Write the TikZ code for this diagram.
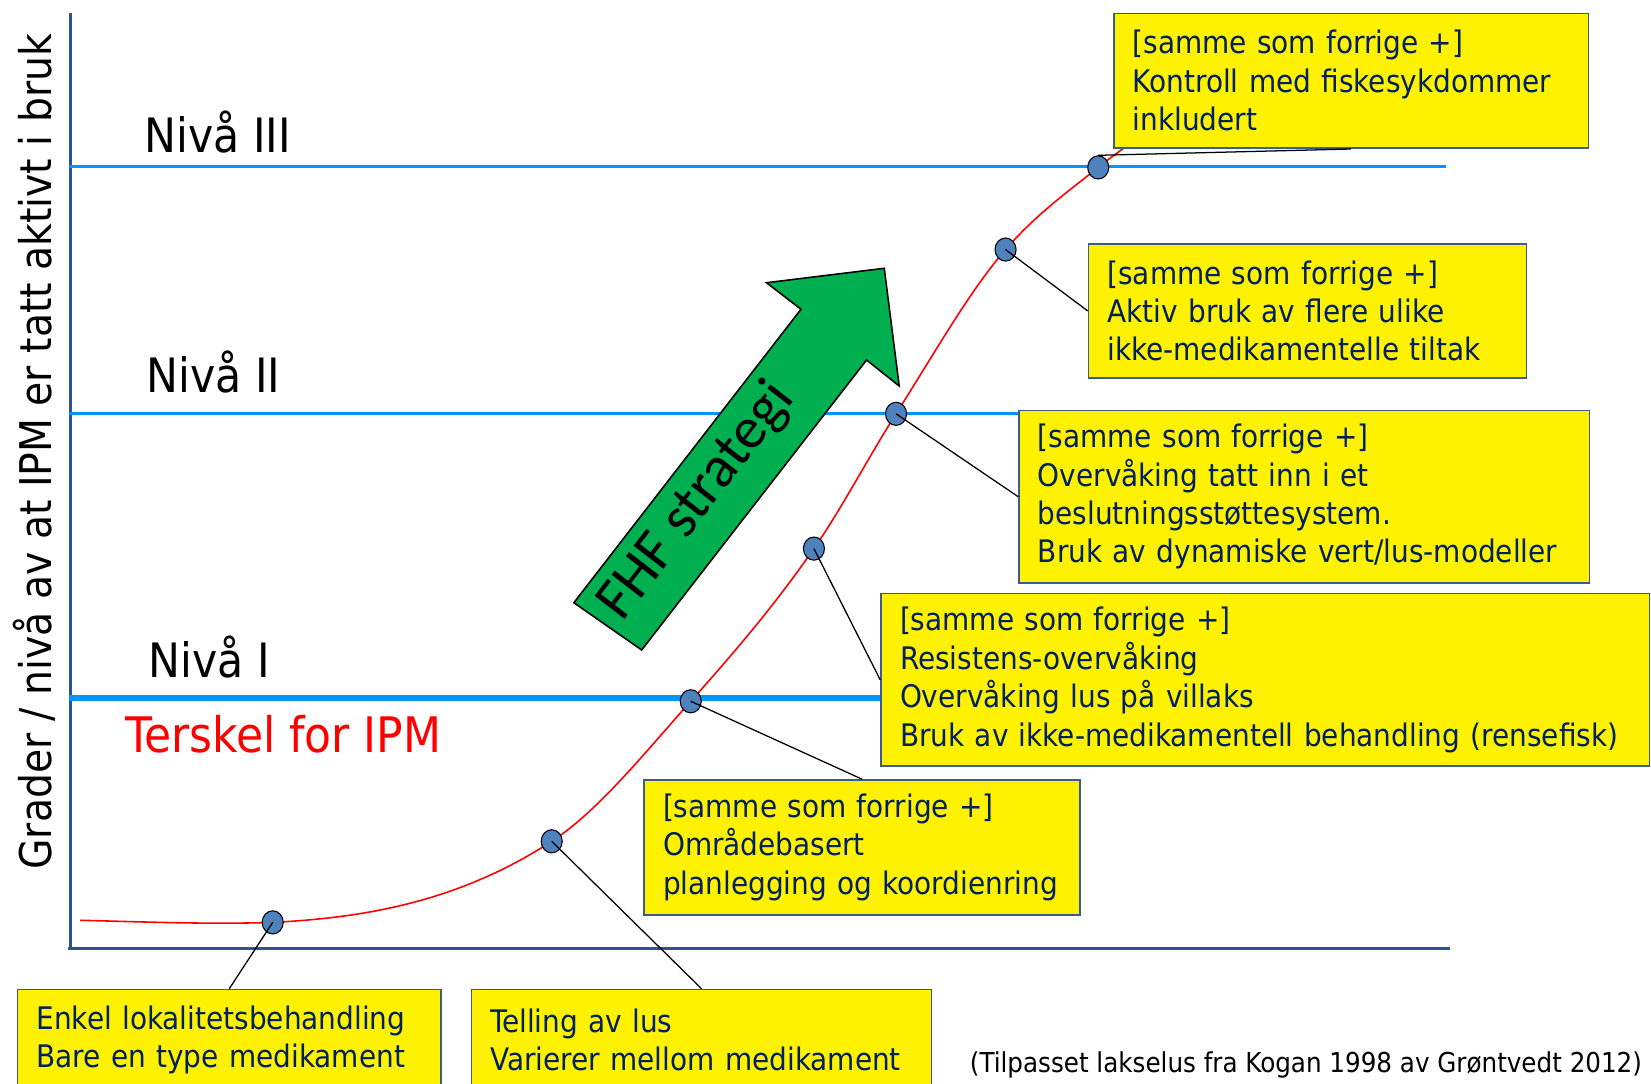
\documentclass[tikz,border=0pt]{standalone}
\usepackage{fontspec}
\setmainfont{DejaVu Sans Condensed}
\newfontfamily\calib{Carlito}
\usetikzlibrary{shapes.geometric}
\definecolor{axisblue}{RGB}{47,82,143}
\definecolor{levelblue}{RGB}{0,150,255}
\definecolor{dotblue}{RGB}{79,129,189}
\definecolor{boxline}{RGB}{60,90,140}
\definecolor{navy}{RGB}{0,32,96}
\definecolor{arrowgreen}{RGB}{0,176,80}
\begin{document}
\begin{tikzpicture}[x=1pt,y=-1pt,
  callout/.style={draw=boxline, line width=1.5pt, fill=yellow, text=navy,
    font=\fontsize{29.5}{36.5}\selectfont, align=left, anchor=north west,
    inner xsep=18pt, inner ysep=0pt},
  levelline/.style={draw=levelblue, line width=2.5pt},
  dot/.style={ellipse, draw=black, line width=1pt, fill=dotblue,
    minimum width=20pt, minimum height=22pt, inner sep=0pt},
  leader/.style={draw=black, line width=1.2pt},
  level/.style={font=\fontsize{45}{52}\selectfont, anchor=west, inner sep=0pt}]
\useasboundingbox (0,0) rectangle (1568,1029);
\clip (0,0) rectangle (1568,1029);
\fill[white] (0,0) rectangle (1568,1029);

% axes
\draw[axisblue, line width=3pt] (67,12) -- (67,902);
\draw[axisblue, line width=3pt] (65,901) -- (1377,901);

% level lines
\draw[levelline] (66,158) -- (1373,158);
\draw[levelline] (66,393) -- (1373,393);
\draw[levelblue, line width=6pt] (66,663) -- (836,663);

% labels
\node[level] (n3) at (137,125) {Nivå III};
\node[level] (n2) at (139,353) {Nivå II};
\node[level] (n1) at (141,624) {Nivå I};
\node[level, text=red, font=\fontsize{46.5}{54}\selectfont] (tk) at (119,697) {Terskel for IPM};
\node[rotate=90, font=\fontsize{41.5}{48}\selectfont, inner sep=0pt] (ylab) at (33,429)
  {Grader / nivå av at IPM er tatt aktivt i bruk};

% strategy arrow
\draw[fill=arrowgreen, draw=black, line width=1.5pt, line join=miter]
  (545,572.4) -- (609.4,617.3) -- (823,341.9) -- (854,366.6) -- (839.8,254.8)
  -- (728,268.5) -- (760.7,293.7) -- cycle;
\node[rotate=52.3, font=\calib\fontsize{56}{64}\selectfont, inner sep=0pt] (fhf) at (662,476) {FHF strategi};

% curve
\draw[red, line width=1.5pt]
  (76,874) .. controls (137,875.5) and (198,878) .. (259,876)
  .. controls (347,871.6) and (436,856.2) .. (524,799)
  .. controls (568,770.4) and (612,715.3) .. (656,666)
  .. controls (695,622.3) and (734,577.2) .. (773,521)
  .. controls (799,483.6) and (825,433.8) .. (851,393)
  .. controls (885.7,338.5) and (920.3,276.9) .. (955,237)
  .. controls (984.3,203.3) and (1013.7,182.5) .. (1043,159)
  .. controls (1057,147.8) and (1071,138) .. (1085,128);

% dots
\node[dot] (d1) at (259,876) {};
\node[dot] (d2) at (524,799) {};
\node[dot] (d3) at (656,666) {};
\node[dot] (d4) at (773,521) {};
\node[dot] (d5) at (851,393) {};
\node[dot] (d6) at (955,237) {};
\node[dot] (d7) at (1043,159) {};

% boxes
\node[callout, text width=415pt, minimum height=128pt] (b1) at (1057,12)
  {[samme som forrige +]\\Kontroll med fiskesykdommer\\inkludert};
\node[callout, text width=380pt, minimum height=127pt] (b2) at (1033,231)
  {[samme som forrige +]\\Aktiv bruk av flere ulike\\ikke-medikamentelle tiltak};
\node[callout, text width=506pt, minimum height=164pt] (b3) at (967,389)
  {[samme som forrige +]\\Overvåking tatt inn i et\\beslutningsstøttesystem.\\Bruk av dynamiske vert/lus-modeller};
\node[callout, text width=694pt, minimum height=164pt] (b4) at (836,563)
  {[samme som forrige +]\\Resistens-overvåking\\Overvåking lus på villaks\\Bruk av ikke-medikamentell behandling (rensefisk)};
\node[callout, text width=378pt, minimum height=128pt] (b5) at (611,740)
  {[samme som forrige +]\\Områdebasert\\planlegging og koordienring};
\node[callout, text width=366pt, minimum height=96pt] (b6) at (16,939)
  {Enkel lokalitetsbehandling\\Bare en type medikament};
\node[callout, text width=401pt, minimum height=96pt] (b7) at (447,939)
  {Telling av lus\\Varierer mellom medikament};

% leaders
\draw[leader] (d1.center) -- (b6.north);
\draw[leader] (d2.center) -- (b7.north);
\draw[leader] (d3.center) -- (b5.north);
\draw[leader] (d4.center) -- (b4.west);
\draw[leader] (d5.center) -- (b3.west);
\draw[leader] (d6.center) -- (b2.west);
\draw[leader] (d7.north) -- (b1.south);

% citation
\node[font=\fontsize{26}{30}\selectfont, anchor=west, inner sep=0pt] (cite) at (921,1011)
  {(Tilpasset lakselus fra Kogan 1998 av Grøntvedt 2012)};
\end{tikzpicture}
\end{document}
